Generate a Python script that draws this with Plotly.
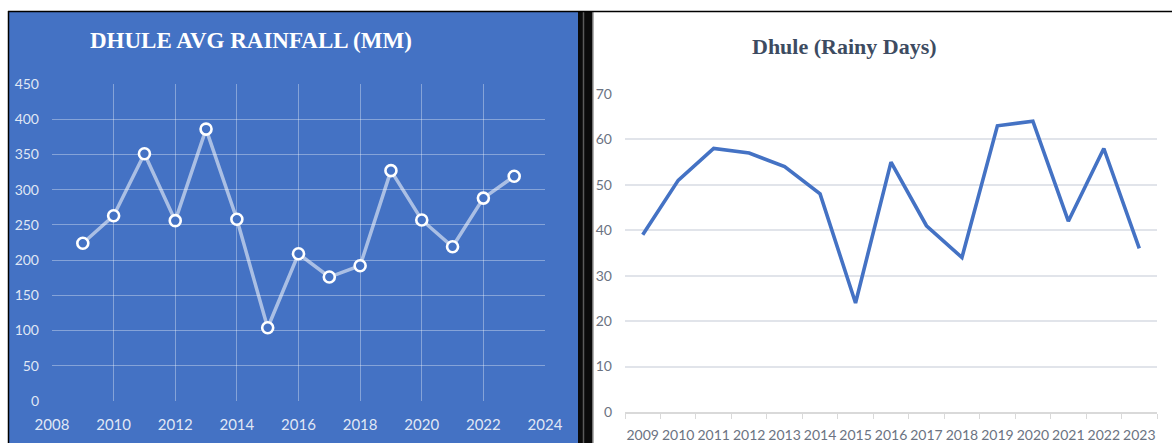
import plotly.graph_objects as go

# Dhule district: average rainfall (mm) and number of rainy days per year
years = [2009, 2010, 2011, 2012, 2013, 2014, 2015, 2016,
         2017, 2018, 2019, 2020, 2021, 2022, 2023]
rainfall_mm = [224, 263, 351, 256, 386, 258, 104, 209,
               176, 192, 327, 257, 219, 288, 319]
rainy_days = [39, 51, 58, 57, 54, 48, 24, 55,
              41, 34, 63, 64, 42, 58, 36]
year_labels = [str(y) for y in years]

W, H = 1172, 443
BLUE = "#4472C4"


def px(x):
    return x / W


def py(y):
    return 1 - y / H


fig = go.Figure()

# Left panel: rainfall line with hollow markers
fig.add_trace(go.Scatter(
    x=years, y=rainfall_mm, mode="lines+markers",
    line=dict(color="rgba(255,255,255,0.55)", width=3.5),
    marker=dict(symbol="circle", size=11, color=BLUE,
                line=dict(color="white", width=2.6)),
    xaxis="x", yaxis="y", showlegend=False, hoverinfo="x+y",
))

# Right panel: rainy days line
fig.add_trace(go.Scatter(
    x=year_labels, y=rainy_days, mode="lines",
    line=dict(color=BLUE, width=3.6),
    xaxis="x2", yaxis="y2", showlegend=False, hoverinfo="x+y",
))

FONT = "Lato, Liberation Sans, sans-serif"
tick_font_left = dict(family=FONT, size=14, color="rgba(255,255,255,0.85)")
tick_font_right = dict(family=FONT, size=14, color="#6b7382")

fig.update_layout(
    width=W, height=H,
    margin=dict(l=0, r=0, t=0, b=0, pad=0, autoexpand=False),
    paper_bgcolor="white",
    plot_bgcolor="rgba(0,0,0,0)",
    xaxis=dict(
        domain=[px(52), px(545)], range=[2008, 2024], dtick=2,
        showgrid=True, gridcolor="rgba(255,255,255,0.35)", gridwidth=1,
        zeroline=False, showline=False, tickangle=0, automargin=False,
        tickfont=dict(tick_font_left, size=15), ticklabelstandoff=13,
        anchor="y", fixedrange=True,
    ),
    yaxis=dict(
        domain=[py(401), py(84)], range=[0, 450], dtick=50,
        showgrid=True, gridcolor="rgba(255,255,255,0.35)", gridwidth=1,
        zeroline=False, showline=False, automargin=False,
        tickfont=tick_font_left, ticklabelstandoff=12,
        anchor="x", fixedrange=True,
    ),
    xaxis2=dict(
        domain=[px(625), px(1157)], type="category", range=[-0.5, 14.5],
        showgrid=False, zeroline=False,
        showline=True, linecolor="#d9d9d9", linewidth=1.5,
        ticks="outside", tickson="boundaries", ticklen=5,
        tickcolor="#d9d9d9", tickangle=0, automargin=False,
        tickfont=tick_font_right, ticklabelstandoff=9,
        anchor="y2", fixedrange=True,
    ),
    yaxis2=dict(
        domain=[py(412), py(94)], range=[0, 70], dtick=10,
        showgrid=True, gridcolor="#e1e4ea", gridwidth=1.5,
        zeroline=False, showline=False, automargin=False,
        tickfont=tick_font_right, ticklabelstandoff=12,
        anchor="x2", fixedrange=True,
    ),
    shapes=[
        # blue panel background
        dict(type="rect", xref="paper", yref="paper", layer="below",
             x0=px(9), x1=px(578), y0=0, y1=py(12),
             fillcolor=BLUE, line=dict(width=0)),
        # dark divider between the panels
        dict(type="rect", xref="paper", yref="paper", layer="above",
             x0=px(578), x1=px(593), y0=0, y1=py(11),
             fillcolor="#0a0a0a", line=dict(width=0)),
        dict(type="line", xref="paper", yref="paper", layer="above",
             x0=px(583.5), x1=px(583.5), y0=0, y1=py(12),
             line=dict(color="#5a5a5a", width=1.5)),
        dict(type="line", xref="paper", yref="paper", layer="above",
             x0=px(593), x1=px(593), y0=0, y1=py(12),
             line=dict(color="#9a9a9a", width=1.5)),
        # outer frame
        dict(type="line", xref="paper", yref="paper", layer="above",
             x0=px(8), x1=1, y0=py(11.5), y1=py(11.5),
             line=dict(color="black", width=1.5)),
        dict(type="line", xref="paper", yref="paper", layer="above",
             x0=px(8.5), x1=px(8.5), y0=0, y1=py(11),
             line=dict(color="black", width=1.5)),
    ],
    annotations=[
        dict(text="<b>DHULE AVG RAINFALL (MM)</b>", xref="paper", yref="paper",
             x=px(251), y=py(41), xanchor="center", yanchor="middle",
             showarrow=False,
             font=dict(family="Liberation Serif, Times New Roman, serif",
                       size=23, color="white")),
        dict(text="<b>Dhule (Rainy Days)</b>", xref="paper", yref="paper",
             x=px(844), y=py(46), xanchor="center", yanchor="middle",
             showarrow=False,
             font=dict(family="Liberation Serif, Times New Roman, serif",
                       size=22, color="#3d4b61")),
    ],
)

fig.write_html(
    "out.html",
    post_script="document.body.style.margin='0';"
                "document.body.style.overflow='hidden';",
)
